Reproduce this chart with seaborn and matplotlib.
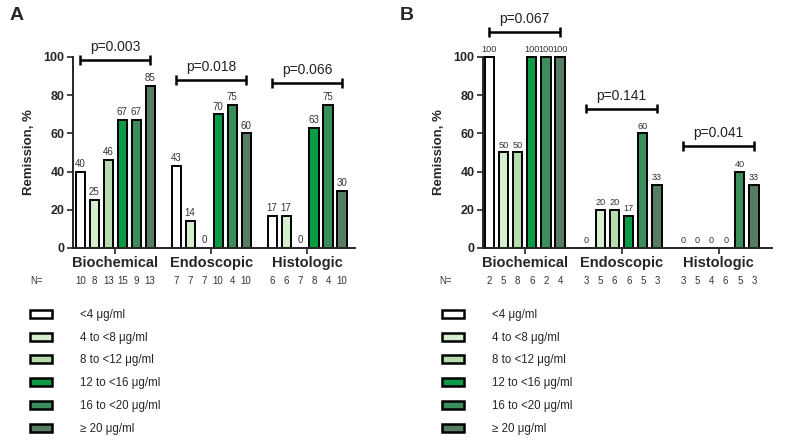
import matplotlib
matplotlib.use("Agg")
import matplotlib.pyplot as plt
from matplotlib.patches import Patch
import seaborn as sns
import pandas as pd

sns.set_theme(style="ticks")
plt.rcParams['font.family'] = ['Liberation Sans', 'DejaVu Sans']

categories = ["Biochemical", "Endoscopic", "Histologic"]
bins = ["<4 \u03bcg/ml", "4 to <8 \u03bcg/ml", "8 to <12 \u03bcg/ml",
        "12 to <16 \u03bcg/ml", "16 to <20 \u03bcg/ml", "\u2265 20 \u03bcg/ml"]
colors = ["#ffffff", "#d7edd0", "#b6dbae", "#0b9a46", "#3b8d5c", "#587b63"]

# Panel A values (% remission) per category, per bin
a_biochemical = [40, 25, 46, 67, 67, 85]
a_endoscopic = [43, 14, 0, 70, 75, 60]
a_histologic = [17, 17, 0, 63, 75, 30]
a_n_biochemical = [10, 8, 13, 15, 9, 13]
a_n_endoscopic = [7, 7, 7, 10, 4, 10]
a_n_histologic = [6, 6, 7, 8, 4, 10]
a_pvalues = ["p=0.003", "p=0.018", "p=0.066"]

# Panel B values
b_biochemical = [100, 50, 50, 100, 100, 100]
b_endoscopic = [0, 20, 20, 17, 60, 33]
b_histologic = [0, 0, 0, 0, 40, 33]
b_n_biochemical = [2, 5, 8, 6, 2, 4]
b_n_endoscopic = [3, 5, 6, 6, 5, 3]
b_n_histologic = [3, 5, 4, 6, 5, 3]
b_pvalues = ["p=0.067", "p=0.141", "p=0.041"]

# bracket heights in data units
a_bracket_y = [98.5, 88, 86.5]
b_bracket_y = [113, 73, 53.5]


def make_df(vals, ns):
    rows = []
    for cat, v, n in zip(categories, vals, ns):
        for b, vv, nn in zip(bins, v, n):
            rows.append({"cat": cat, "bin": b, "value": vv, "n": nn})
    return pd.DataFrame(rows)


fig = plt.figure(figsize=(8, 4.45), dpi=100)
ax_a = fig.add_axes([73 / 800, 1 - 248 / 445, 282 / 800, 191 / 445])
ax_b = fig.add_axes([483 / 800, 1 - 248 / 445, 289 / 800, 191 / 445])

panels = [
    (ax_a, make_df([a_biochemical, a_endoscopic, a_histologic],
                   [a_n_biochemical, a_n_endoscopic, a_n_histologic]),
     a_pvalues, a_bracket_y, (-0.44, 2.5), 7),
    (ax_b, make_df([b_biochemical, b_endoscopic, b_histologic],
                   [b_n_biochemical, b_n_endoscopic, b_n_histologic]),
     b_pvalues, b_bracket_y, (-0.43, 2.55), 6.6),
]

for ax, df, pvals, bys, xl, vfs in panels:
    sns.barplot(data=df, x="cat", y="value", hue="bin", order=categories,
                hue_order=bins, palette=colors, width=0.875, gap=0.35,
                edgecolor="black", linewidth=1.4, ax=ax, legend=False,
                errorbar=None, saturation=1)
    ax.set_ylim(0, 100)
    ax.set_xlim(*xl)
    ax.set_yticks([0, 20, 40, 60, 80, 100])
    ax.tick_params(axis="y", labelsize=9, width=1.2, length=4, pad=2)
    ax.tick_params(axis="x", labelsize=10.5, width=1.2, length=4, pad=2)
    for lab in ax.get_yticklabels() + ax.get_xticklabels():
        lab.set_fontweight("bold")
    ax.set_xlabel("")
    ax.set_ylabel("Remission, %", fontsize=9.5, fontweight="bold", labelpad=6)
    for s in ["top", "right"]:
        ax.spines[s].set_visible(False)
    for s in ["left", "bottom"]:
        ax.spines[s].set_linewidth(1.4)
        ax.spines[s].set_clip_on(False)
    for cont in ax.containers:
        ax.bar_label(cont, fmt="%d", padding=2, fontsize=vfs, color="#333333",
                     clip_on=False)
        for p in cont.patches:
            p.set_clip_on(False)
    # N row
    trans = ax.get_xaxis_transform()
    ax.text(-0.13, -0.173, "N=", transform=ax.transAxes, fontsize=7,
            ha="center", va="center", color="#333333")
    for hi, cont in enumerate(ax.containers):
        for ci, p in enumerate(cont.patches):
            xc = p.get_x() + p.get_width() / 2
            nval = df[(df["cat"] == categories[ci]) & (df["bin"] == bins[hi])]["n"].iloc[0]
            ax.text(xc, -0.173, str(nval), transform=trans, fontsize=7,
                    ha="center", va="center", color="#333333")
    # p-value brackets
    first = ax.containers[0].patches
    last = ax.containers[-1].patches
    for ci in range(3):
        x0 = first[ci].get_x() + first[ci].get_width() / 2
        x1 = last[ci].get_x() + last[ci].get_width() / 2
        y = bys[ci]
        ax.plot([x0, x1], [y, y], color="black", lw=1.8, clip_on=False,
                solid_capstyle="butt")
        for xx in (x0, x1):
            ax.plot([xx, xx], [y - 2.5, y + 2.5], color="black", lw=1.8,
                    clip_on=False, solid_capstyle="butt")
        ax.text((x0 + x1) / 2, y + 3, pvals[ci], ha="center", va="bottom",
                fontsize=10, color="#222222", clip_on=False)

fig.text(10 / 800, 1 - 15 / 445, "A", fontsize=14, fontweight="bold",
         va="center", ha="left")
fig.text(400 / 800, 1 - 15 / 445, "B", fontsize=14, fontweight="bold",
         va="center", ha="left")

handles = [Patch(facecolor=c, edgecolor="black", linewidth=1.8) for c in colors]
for xpos in (30 / 800, 442 / 800):
    fig.legend(handles, bins, loc="upper left", bbox_to_anchor=(xpos, 1 - 309 / 445),
               frameon=False, fontsize=8.3, labelspacing=0.93, handlelength=1.9,
               handleheight=0.7, handletextpad=2.4, borderpad=0, borderaxespad=0)

fig.savefig("out.png", dpi=100)
